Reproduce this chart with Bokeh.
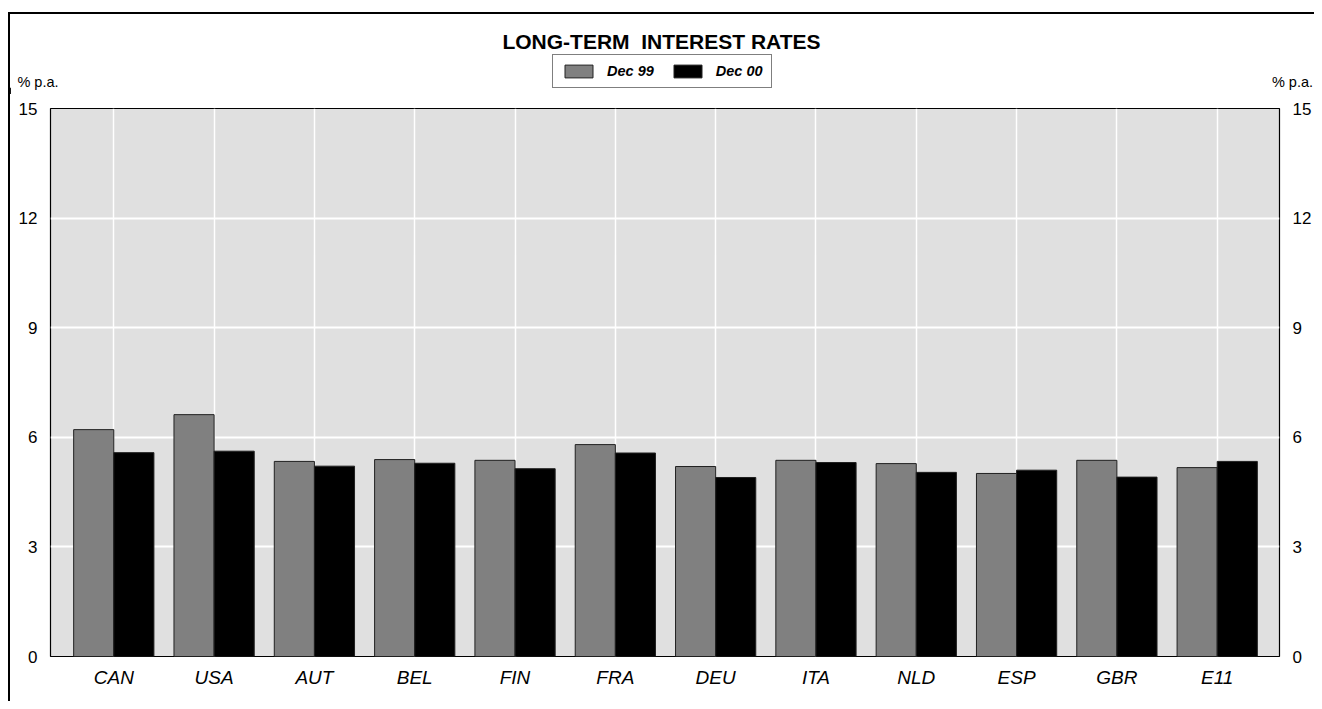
from bokeh.plotting import figure
from bokeh.layouts import column
from bokeh.models import (ColumnDataSource, FixedTicker, LinearAxis, Range1d,
                          Label, Legend, LegendItem)
from bokeh.transform import dodge
from bokeh.embed import file_html
from bokeh.resources import INLINE

# ---- data ----
countries = ["CAN", "USA", "AUT", "BEL", "FIN", "FRA", "DEU", "ITA", "NLD", "ESP", "GBR", "E11"]
dec99 = [6.21, 6.62, 5.34, 5.39, 5.37, 5.80, 5.20, 5.37, 5.28, 5.01, 5.37, 5.17]
dec00 = [5.58, 5.62, 5.21, 5.29, 5.14, 5.57, 4.90, 5.31, 5.04, 5.10, 4.91, 5.34]
series_names = ["Dec 99", "Dec 00"]
y_ticks = [0, 3, 6, 9, 12, 15]
title_text = "LONG-TERM\u00a0 INTEREST RATES"
unit_text = "% p.a."

FONT = "Liberation Sans"
W = 1304
TOP_H = 80
idx = list(range(len(countries)))
src = ColumnDataSource(dict(x=idx, dec99=dec99, dec00=dec00))
GREY = "#808080"
BLACK = "#000000"
EDGE = "#202020"

# ---- header figure (title, legend, unit labels) ----
top = figure(width=W, height=TOP_H, output_backend="svg", toolbar_location=None,
             x_range=Range1d(0, W), y_range=Range1d(0, TOP_H),
             x_axis_type=None, y_axis_type=None,
             min_border=0, min_border_left=0, min_border_right=0,
             min_border_top=0, min_border_bottom=0,
             background_fill_color="white", border_fill_color="white")
top.frame_align = False
top.outline_line_color = None
top.grid.visible = False

top.add_layout(Label(x=651, y=53, text=title_text, text_align="center",
                     text_baseline="middle", text_font=FONT, text_font_style="bold",
                     text_font_size="21px", text_color="black"))
top.add_layout(Label(x=27.5, y=13, text=unit_text, text_align="center",
                     text_baseline="middle", text_font=FONT, text_font_size="14.5px",
                     text_color="black"))
top.add_layout(Label(x=1282, y=13, text=unit_text, text_align="center",
                     text_baseline="middle", text_font=FONT, text_font_size="14.5px",
                     text_color="black"))

# legend proxies: same data, shifted far outside the header's visible range
l1 = top.vbar(x=dodge("x", -10000), width=1, top="dec99", source=src,
              fill_color=GREY, line_color=EDGE, line_width=1)
l2 = top.vbar(x=dodge("x", -10000), width=1, top="dec00", source=src,
              fill_color=BLACK, line_color=EDGE, line_width=1)
legend = Legend(items=[LegendItem(label=series_names[0], renderers=[l1]),
                       LegendItem(label=series_names[1], renderers=[l2])],
                orientation="horizontal", location=(542, 6))
legend.label_text_font = FONT
legend.label_text_font_style = "bold italic"
legend.label_text_font_size = "14.5px"
legend.label_text_color = "black"
legend.glyph_width = 35
legend.glyph_height = 16
legend.label_standoff = 11
legend.spacing = 16
legend.padding = 8
legend.margin = 0
legend.border_line_color = "black"
legend.border_line_width = 1.5
legend.background_fill_color = "white"
legend.background_fill_alpha = 1
legend.label_height = 15
top.add_layout(legend, "center")

# ---- main chart ----
p = figure(width=W, height=687 - TOP_H, output_backend="svg", toolbar_location=None,
           x_range=Range1d(-0.631, 11.621), y_range=Range1d(0, 15),
           min_border_left=40, min_border_right=35, min_border_top=14, min_border_bottom=45,
           background_fill_color="#e0e0e0", border_fill_color="white")
p.frame_align = False
p.outline_line_color = "black"
p.outline_line_width = 1.2

r1 = p.vbar(x=dodge("x", -0.2), width=0.4, top="dec99", source=src,
            fill_color=GREY, line_color=EDGE, line_width=1)
r2 = p.vbar(x=dodge("x", 0.2), width=0.4, top="dec00", source=src,
            fill_color=BLACK, line_color=EDGE, line_width=1)

p.xaxis.ticker = FixedTicker(ticks=idx)
p.xaxis.major_label_overrides = {i: c for i, c in zip(idx, countries)}
p.yaxis.ticker = FixedTicker(ticks=y_ticks)
right = LinearAxis(ticker=FixedTicker(ticks=y_ticks))
p.add_layout(right, "right")
for ax in [p.xaxis[0], p.yaxis[0], right]:
    ax.axis_line_color = None
    ax.major_tick_line_color = None
    ax.minor_tick_line_color = None
    ax.major_tick_out = 0
    ax.major_tick_in = 0
    ax.minor_tick_out = 0
    ax.minor_tick_in = 0
    ax.major_label_text_font = FONT
    ax.major_label_text_color = "black"
    ax.major_label_text_font_size = "17px"
    ax.major_label_standoff = 13
p.xaxis.major_label_text_font_style = "italic"
p.xaxis.major_label_text_font_size = "19px"
p.xaxis.major_label_standoff = 10

p.xgrid.ticker = FixedTicker(ticks=idx)
p.xgrid.grid_line_color = "white"
p.xgrid.grid_line_width = 1.5
p.ygrid.ticker = FixedTicker(ticks=y_ticks)
p.ygrid.grid_line_color = "white"
p.ygrid.grid_line_width = 2

layout = column(top, p, spacing=0)
layout.styles = {"border-left": "2px solid black", "border-top": "2px solid black",
                 "margin-left": "8px", "margin-top": "12px"}

open("out.html", "w").write(file_html(layout, INLINE))
